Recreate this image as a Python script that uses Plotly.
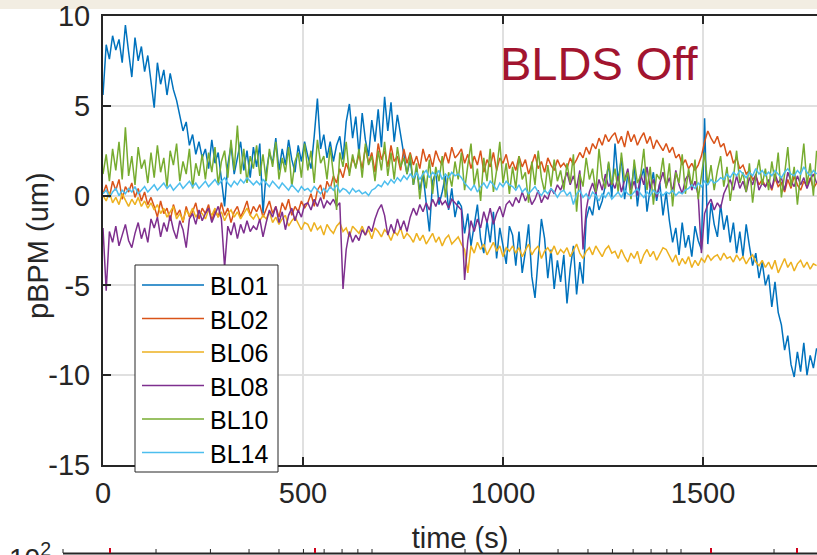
import numpy as np
import plotly.graph_objects as go

# Beamline pBPM readings with the BLDS feedback switched off (sampled every 8 s)
STEP_S = 8
bl01 = [
    5.6, 8.4, 7.6, 8.9, 8.1, 8.7, 7.4, 9.5, 8.0, 6.6, 8.8, 7.5, 8.3, 6.9, 7.8, 6.4,
    4.9, 7.4, 6.2, 7.0, 5.6, 6.8, 5.9, 5.3, 4.4, 3.6, 4.1, 2.8, 3.4, 2.3, 3.0, 2.1,
    2.6, 1.5, 3.1, 1.8, 2.4, 0.9, -0.6, 1.7, 2.8, 1.2, 2.2, 3.0, 1.4, 2.5, 1.0, 2.7,
    1.6, 2.9, -1.0, 1.3, 2.4, 1.8, 3.2, 1.4, 2.6, 1.7, 3.1, 2.0, 1.3, 2.8, 1.9, 3.0,
    2.2, 1.5, 3.3, 5.4, 2.6, 3.4, 2.1, 3.0, 1.9, 2.8, 3.3, 2.0, 4.1, 5.1, 3.2, 4.4,
    2.3, 4.6, 3.1, 2.2, 4.2, 3.0, 4.8, 2.7, 5.5, 3.6, 5.2, 3.0, 4.5, 3.4, 2.1, 1.2,
    2.0, 0.6, 1.5, 0.3, 1.2, -0.4, -2.0, 0.8, 1.3, -0.5, 0.2, 1.1, -0.8, 0.4, -1.2, -0.3,
    -0.6, -2.1, -1.0, -2.8, -1.5, -0.5, -2.4, -3.2, -1.4, -2.6, -0.9, -3.5, -1.8, -2.7, -3.8, -1.7,
    -2.2, -3.9, -2.0, -4.3, -3.1, -1.6, -4.5, -5.7, -3.4, -1.3, -2.4, -4.6, -3.0, -5.2, -3.6, -4.8,
    -3.3, -6.0, -4.1, -2.8, -5.5, -3.7, -4.9, -1.3, -0.6, -1.1, 0.2, -0.8, -0.3, 0.6, 1.8, -0.1,
    2.9, 0.8, 2.1, -0.2, 1.2, 0.3, 1.7, -0.6, 0.9, 1.5, -0.9, 0.4, 1.3, -0.3, 0.7, -1.1,
    0.2, -1.4, -2.6, -1.8, -3.3, -1.5, -2.9, -2.2, -3.4, -1.7, -2.5, -3.0, 4.3, -2.7, -0.4, -1.6,
    -2.3, -0.5, -1.9, -1.1, -2.6, -1.5, -3.2, -2.0, -3.4, -1.6, -2.8, -3.9, -3.2, -4.6, -3.7, -5.0,
    -4.4, -6.2, -4.8, -6.5, -7.2, -8.6, -7.8, -9.4, -10.1, -8.7, -9.8, -8.2, -10.0, -8.9, -9.6, -8.5,
]
bl02 = [
    0.1, 0.6, -0.1, 0.8, 0.3, 0.9, -0.2, 0.5, 0.2, 0.7, -0.1, 0.4, -0.3, 0.2, -0.5, -0.1,
    -0.6, -1.2, -0.3, -1.0, -0.7, -1.4, -0.5, -1.1, -0.8, -1.5, -0.6, -1.2, -0.9, -0.4, -1.3, -0.7,
    -1.0, -0.5, -1.4, -0.8, -1.2, -0.4, -1.1, -0.7, -1.5, -0.9, -0.6, -1.2, -0.8, -0.3, -1.1, -0.6,
    -0.9, -0.5, -1.2, -0.7, -0.3, -1.0, -0.6, -1.2, -0.4, -0.8, -0.2, -1.1, -0.6, -0.9, -0.3, -0.7,
    -0.4, 0.1, -0.6, 0.3, 0.6, -0.2, 0.8, 0.4, 1.1, 0.7, 1.5, 1.0, 1.8, 1.3, 2.1, 1.6,
    2.3, 1.5, 2.7, 1.8, 2.4, 1.3, 2.9, 2.0, 2.5, 1.6, 2.8, 1.9, 2.2, 1.4, 2.6, 1.8,
    2.4, 1.7, 2.2, 1.5, 2.6, 1.9, 2.3, 1.6, 2.5, 2.0, 1.7, 2.4, 1.8, 2.7, 2.1, 2.3,
    2.6, 1.8, 2.3, 1.5, 2.2, 1.7, 2.5, 1.3, 2.0, 1.6, 2.4, 1.4, 2.1, 1.8, 2.3, 1.5,
    1.9, 1.4, 2.2, 1.6, 2.0, 1.2, 1.8, 2.3, 1.5, 1.9, 1.3, 2.1, 1.7, 1.4, 2.0, 1.6,
    1.8, 1.5, 2.1, 1.7, 2.0, 2.4, 2.1, 2.7, 2.3, 2.9, 2.6, 3.2, 2.8, 3.4, 3.0, 3.3,
    3.5, 2.9, 3.3, 2.7, 3.6, 3.0, 3.4, 2.8, 3.2, 3.5, 2.9, 3.3, 2.6, 3.1, 2.8, 2.5,
    2.9, 2.4, 2.7, 2.1, 2.3, 1.7, 2.0, 1.5, 1.8, 1.4, 1.7, 2.2, 3.0, 3.6, 3.2, 2.9,
    3.3, 2.7, 2.9, 2.2, 2.5, 1.8, 2.1, 1.5, 1.7, 1.2, 1.4, 0.9, 1.1, 0.6, 0.9, 0.5,
    0.8, 0.3, 1.0, 0.5, 0.7, 0.2, 0.9, 0.4, 1.1, 0.6, 0.3, 0.8, 0.5, 1.0, 0.4, 0.7,
]
bl06 = [
    0.0, -0.3, 0.2, -0.4, -0.1, -0.5, 0.1, -0.3, -0.6, -0.2, -0.5, -0.1, -0.6, -0.3, -0.7, -0.4,
    -0.8, -0.5, -1.0, -0.7, -1.2, -0.9, -0.6, -1.3, -1.0, -1.4, -0.8, -1.1, -0.7, -1.2, -0.9, -1.0,
    -1.3, -0.8, -1.1, -0.7, -1.2, -0.9, -1.4, -1.0, -0.8, -1.2, -0.9, -1.3, -1.0, -0.7, -1.1, -1.3,
    -1.0, -1.4, -1.1, -1.3, -0.9, -1.5, -1.2, -1.6, -1.3, -1.1, -1.7, -1.4, -1.2, -1.6, -1.9, -1.5,
    -1.6, -2.0, -1.5, -1.9, -1.7, -2.2, -1.6, -1.9, -2.1, -1.7, -1.5, -2.0, -1.8, -2.3, -1.7, -1.9,
    -2.1, -1.7, -2.2, -1.9, -2.4, -1.8, -2.0, -2.3, -1.9, -2.1, -2.5, -2.0, -2.2, -1.8, -2.4, -2.1,
    -2.3, -2.6, -2.1, -2.5, -2.2, -2.7, -2.4, -2.1, -2.6, -2.3, -2.8, -2.4, -2.2, -2.7, -2.5, -2.3,
    -2.7, -3.0, -4.3, -2.8, -3.2, -2.6, -3.0, -2.7, -3.3, -2.9, -2.6, -3.1, -2.8, -3.4, -2.9, -3.1,
    -2.8, -3.2, -2.9, -3.4, -3.0, -2.7, -3.3, -3.0, -2.8, -3.5, -3.1, -2.9, -3.2, -2.8, -3.3, -3.0,
    -3.2, -2.9, -3.4, -3.0, -2.7, -3.2, -3.5, -3.1, -2.9, -3.3, -2.8, -3.1, -3.4, -3.0, -2.8, -3.2,
    -3.1, -3.5, -3.0, -3.4, -3.7, -3.2, -3.5, -3.1, -3.8, -3.3, -3.0, -3.4, -3.1, -3.6, -3.2, -2.9,
    -3.0, -3.4, -3.7, -3.3, -3.9, -3.5, -3.8, -3.4, -4.0, -3.6, -3.9, -3.5, -3.7, -3.3, -3.6, -3.4,
    -3.3, -3.6, -3.2, -3.5, -3.4, -3.7, -3.3, -3.6, -3.4, -3.8, -3.5, -3.3, -3.7, -3.9, -3.6, -4.0,
    -3.7, -4.1, -3.6, -4.3, -3.9, -3.5, -4.0, -3.7, -4.2, -3.8, -3.6, -4.0, -3.7, -4.1, -3.8, -3.9,
]
bl08 = [
    -1.8, -5.3, -2.0, -2.6, -1.7, -2.8, -2.2, -1.6, -2.5, -2.9, -2.1, -1.5, -2.4, -1.8, -2.6, -1.3,
    -1.8, -1.2, -2.3, -1.5, -2.0, -1.1, -1.9, -2.4, -1.4, -1.9, -2.9, -1.3, -1.0, -1.6, -0.8, -1.4,
    -1.0, -0.7, -1.5, -1.1, -0.6, -1.3, -4.0, -1.7, -2.2, -1.5, -2.4, -1.6, -2.1, -1.4, -2.0, -1.7,
    -1.9, -1.3, -2.3, -1.5, -0.8, -1.2, -0.6, -1.5, -0.9, -1.9, -1.1, -0.7, -1.4, -0.8, -1.2, -0.5,
    -0.4, -0.8, -0.2, -0.6, -0.1, -0.7, -0.3, -0.5, -0.2, -0.6, -0.4, -5.2, -3.0, -2.0, -2.6, -2.2,
    -2.5, -1.9, -2.2, -1.7, -2.0, -1.3, -0.8, -0.5, -1.1, -2.2, -1.6, -2.1, -1.3, -1.9, -1.4, -2.0,
    -1.2, -0.7, -1.1, -0.5, -0.9, -0.4, -0.8, -0.2, -0.6, -0.1, -0.5, -0.3, -0.7, -0.2, -0.4, -0.6,
    -0.8, -4.7, -2.5, -1.4, -2.0, -1.3, -1.8, -0.9, -1.5, -0.7, -1.6, -1.0, -0.6, -1.2, -0.5, -0.3,
    -0.6, -0.1, -0.4, 0.2, -0.3, 0.1, -0.5, -0.2, 0.3, -0.4, 0.0, -0.2, 0.4, 0.1, 0.6, 0.3,
    0.8, 1.3, 0.6, 1.1, 0.4, 1.4, -3.0, -0.8, 0.2, 0.7, 0.1, 0.9, 0.3, 1.2, 0.5, 0.8,
    0.4, 1.1, 0.2, 0.9, 1.5, 0.3, 0.8, 0.0, 1.2, 0.6, 1.6, 0.4, 0.9, -0.1, 0.7, 1.3,
    0.5, 1.0, 0.2, 1.4, 0.6, 0.1, 0.9, 1.2, 0.3, 0.8, 0.0, -3.2, -1.0, -0.5, -0.2, -0.8,
    -0.4, -0.7, 0.1, 0.5, 0.9, 0.3, 1.1, 0.4, 0.8, 0.2, 1.0, 0.6, 1.2, 0.3, 0.7, 0.5,
    0.9, 0.4, 1.2, 0.7, 1.0, 0.3, 1.3, 0.8, 0.5, 1.1, 0.6, 1.0, 0.4, 0.9, 1.2, 0.7,
]
bl10 = [
    1.2, 2.3, 0.8, 2.6, 1.4, 3.0, 0.9, 3.8, 1.1, 2.2, 0.6, 2.7, 1.5, 2.0, 0.7, 2.4,
    1.0, 2.8, 1.3, 2.1, 0.5, 2.5, 1.7, 2.9, 0.8, 1.9, 1.2, 2.6, 0.4, 1.8, 1.1, 2.3,
    0.9, 2.4, 1.3, 2.7, 0.6, 1.9, 2.5, 1.0, 3.1, 1.4, 3.9, 1.2, 2.6, 0.7, 2.2, 1.5,
    2.8, 1.1, 2.3, 0.8, 2.6, 1.6, 3.0, 0.9, 2.1, 1.3, 2.7, 0.5, 1.9, 2.4, 1.0, 2.9,
    1.4, 2.5, 0.7, 3.1, 1.8, 2.2, 0.9, 2.7, 1.2, -0.8, 2.4, 1.6, 3.0, 1.1, 2.3, 1.5,
    2.6, 1.0, 2.9, 1.7, 2.2, 0.8, 2.5, 1.4, 3.0, 1.1, 2.4, 0.9, 2.7, 1.6, 2.1, 1.2,
    2.3, 0.6, 1.8, -0.2, 1.4, 0.4, 2.0, 0.1, 1.6, 0.8, 2.2, -0.1, 1.3, 0.5, 1.9, 0.9,
    2.4, 0.3, 1.7, 2.9, 0.6, 1.5, -0.3, 2.1, 0.8, 2.6, 0.2, 1.4, 3.0, 0.7, 1.8, 0.1,
    1.6, 0.4, 2.2, 0.9, 1.3, -0.4, 1.9, 0.6, 2.5, 1.0, 0.2, 1.7, 0.5, 2.0, 0.8, 1.4,
    0.3, 1.8, 0.7, 2.3, -0.9, 1.2, 0.5, 2.1, 0.9, 1.5, 0.2, 2.6, 1.0, 0.4, 1.9, 0.6,
    1.5, 0.2, 2.4, 0.8, 1.3, -0.2, 2.0, 0.7, 1.1, 2.6, 0.3, 1.6, -0.5, 1.2, 0.9, 2.1,
    0.4, 1.8, -0.6, 1.3, 0.7, 2.3, 0.1, 1.5, 0.5, 2.0, -0.2, 1.1, 2.4, 0.6, 1.7, 0.3,
    1.4, 2.2, 0.5, 1.6, -0.3, 1.0, 2.5, 0.7, 1.3, 0.2, 1.8, -0.4, 1.1, 2.0, 0.6, 1.5,
    0.3, 1.9, 0.8, 2.4, -0.1, 1.2, 2.7, 0.5, 1.6, -0.5, 1.4, 2.9, 0.6, 1.8, 0.0, 2.5,
]
bl14 = [
    0.1, 0.3, -0.1, 0.2, 0.4, 0.0, 0.3, 0.1, 0.4, 0.2, 0.5, 0.1, 0.3, 0.5, 0.2, 0.4,
    0.6, 0.3, 0.5, 0.7, 0.4, 0.6, 0.3, 0.5, 0.7, 0.4, 0.6, 0.8, 0.5, 0.7, 0.4, 0.6,
    0.8, 0.5, 0.7, 0.9, 0.6, 0.8, 1.0, 0.7, 0.5, 0.8, 0.6, 0.9, 0.7, 1.0, 0.8, 0.6,
    0.8, 0.6, 0.9, 0.7, 0.5, 0.8, 0.6, 0.4, 0.7, 0.5, 0.3, 0.6, 0.4, 0.2, 0.5, 0.3,
    0.4, 0.2, 0.5, 0.3, 0.1, 0.4, 0.2, 0.5, 0.3, 0.6, 0.2, 0.4, 0.3, 0.1, 0.4, 0.2,
    0.3, 0.1, 0.2, 0.0, 0.3, 0.4, 0.6, 0.5, 0.8, 0.6, 0.9, 0.7, 1.0, 0.8, 1.1, 0.9,
    1.2, 1.0, 1.3, 0.9, 1.2, 1.4, 1.0, 1.3, 1.1, 1.4, 0.9, 1.2, 1.0, 1.3, 1.1, 1.2,
    1.0, 0.7, 0.5, 0.3, 0.6, 0.2, 0.5, 0.7, 0.4, 0.8, 0.6, 0.3, 0.7, 0.5, 0.8, 0.6,
    0.5, 0.3, 0.6, 0.2, 0.4, 0.1, 0.3, 0.5, 0.2, 0.0, 0.3, 0.1, 0.4, 0.2, -0.1, 0.2,
    0.3, 0.0, 0.2, -0.5, 0.1, 0.3, -0.1, 0.1, -0.2, 0.2, 0.0, -0.3, 0.1, -0.1, 0.2, -0.2,
    0.0, 0.2, -0.1, 0.3, 0.1, 0.0, 0.2, 0.4, 0.1, -0.1, 0.2, 0.0, 0.3, 0.1, 0.2, 0.0,
    0.2, 0.1, 0.3, 0.0, 0.2, 0.1, 0.3, 0.4, 0.6, 0.4, 0.7, 0.5, 0.8, 0.6, 0.9, 0.7,
    0.8, 1.0, 0.9, 1.2, 1.0, 1.3, 1.1, 1.4, 1.2, 1.0, 1.3, 1.1, 1.5, 1.2, 1.4, 1.1,
    1.3, 1.1, 1.4, 1.2, 1.0, 1.3, 1.5, 1.2, 1.1, 1.4, 1.2, 1.6, 1.3, 1.1, 1.4, 1.2,
]

names = ["BL01", "BL02", "BL06", "BL08", "BL10", "BL14"]
series = [bl01, bl02, bl06, bl08, bl10, bl14]
colors = ["#0072BD", "#D95319", "#EDB120", "#7E2F8E", "#77AC30", "#4DBEEE"]

x_ticks = [0, 500, 1000, 1500]
x_ticktext = ["0", "500", "1000", "1500"]
y_ticks = [-15, -10, -5, 0, 5, 10]
y_ticktext = ["-15", "-10", "-5", "0", "5", "10"]
x_range = [0, 1785]
y_range = [-15, 10]

t = np.arange(len(bl01)) * STEP_S

# figure / plot-area geometry in pixels
W, H = 817, 555
L, R, T, B = 103, 817, 16, 465
FONT = "Liberation Sans, Arial, Helvetica, sans-serif"
INK = "#262626"


def px(x):
    return (x - L) / (R - L)


def py(y):
    return (B - y) / (B - T)


fig = go.Figure()
for name, vals, col in zip(names, series, colors):
    fig.add_trace(go.Scatter(x=t, y=vals, mode="lines", name=name,
                             line=dict(color=col, width=1.5), showlegend=False))

shapes = []
annotations = []

# legend box, drawn on top of the axes
lg_x0, lg_x1, lg_y0, lg_y1 = 135, 278, 265, 472
shapes.append(dict(type="rect", xref="paper", yref="paper", layer="above",
                   x0=px(lg_x0), x1=px(lg_x1), y0=py(lg_y1), y1=py(lg_y0),
                   fillcolor="white", line=dict(color=INK, width=1)))
for i, (name, col) in enumerate(zip(names, colors)):
    yy = 285 + 33.5 * i
    shapes.append(dict(type="line", xref="paper", yref="paper", layer="above",
                       x0=px(142), x1=px(204), y0=py(yy), y1=py(yy),
                       line=dict(color=col, width=1.3)))
    annotations.append(dict(text=name, xref="paper", yref="paper", x=px(208), y=py(yy + 1),
                            xanchor="left", yanchor="middle", showarrow=False,
                            font=dict(family=FONT, size=25, color="black")))

# chart title
annotations.append(dict(text="BLDS Off", xref="paper", yref="paper", x=px(599), y=py(63),
                        xanchor="center", yanchor="middle", showarrow=False,
                        font=dict(family=FONT, size=47, color="#A2142F")))

# y-axis label, placed beside the tick labels
annotations.append(dict(text="pBPM (um)", xref="paper", yref="paper", x=px(38), y=py(246),
                        xanchor="center", yanchor="middle", textangle=-90, showarrow=False,
                        font=dict(family=FONT, size=29, color=INK)))

# beige window band along the top
shapes.append(dict(type="rect", xref="paper", yref="paper", layer="below",
                   x0=px(0), x1=px(W), y0=py(9), y1=py(0),
                   fillcolor="#f2ede2", line=dict(width=0)))

# top edge of the log-scaled panel underneath
shapes.append(dict(type="line", xref="paper", yref="paper", layer="above",
                   x0=px(63), x1=px(W), y0=py(553.5), y1=py(553.5),
                   line=dict(color=INK, width=2)))
decade_px = 309
for d0 in (63, 372, 681):
    for k in range(1, 10):
        xx = d0 + decade_px * np.log10(k)
        if xx > W:
            break
        shapes.append(dict(type="line", xref="paper", yref="paper", layer="above",
                           x0=px(xx), x1=px(xx), y0=py(553), y1=py(549),
                           line=dict(color=INK, width=1)))
for xx in (110, 315, 711, 797):
    shapes.append(dict(type="line", xref="paper", yref="paper", layer="above",
                       x0=px(xx), x1=px(xx), y0=py(553), y1=py(548),
                       line=dict(color="#D0021B", width=2)))
annotations.append(dict(text="10<sup>2</sup>", xref="paper", yref="paper", x=px(53), y=py(536),
                        xanchor="right", yanchor="top", showarrow=False,
                        font=dict(family=FONT, size=28, color=INK)))

axis_common = dict(showline=True, linecolor=INK, linewidth=2, ticks="inside",
                   ticklen=8, tickwidth=2, tickcolor=INK, showgrid=True,
                   gridcolor="#e0e0e0", gridwidth=1.5, zeroline=False,
                   tickfont=dict(family=FONT, size=29, color=INK))

fig.update_layout(
    width=W, height=H,
    margin=dict(l=L, r=W - R, t=T, b=H - B, pad=0),
    paper_bgcolor="white", plot_bgcolor="white",
    font=dict(family=FONT, color=INK),
    xaxis=dict(range=x_range, tickvals=x_ticks, ticktext=x_ticktext, mirror="ticks",
               ticklabelstandoff=1,
               title=dict(text="time (s)", standoff=20,
                          font=dict(family=FONT, size=29, color=INK)),
               **axis_common),
    yaxis=dict(range=y_range, tickvals=y_ticks, ticktext=y_ticktext, ticklabelstandoff=5,
               **axis_common),
    yaxis2=dict(range=y_range, tickvals=y_ticks, overlaying="y", side="right",
                showline=False, showgrid=False, zeroline=False, showticklabels=False,
                ticks="inside", ticklen=3, tickwidth=2, tickcolor=INK),
    shapes=shapes,
    annotations=annotations,
)

fig.write_html("out.html")
